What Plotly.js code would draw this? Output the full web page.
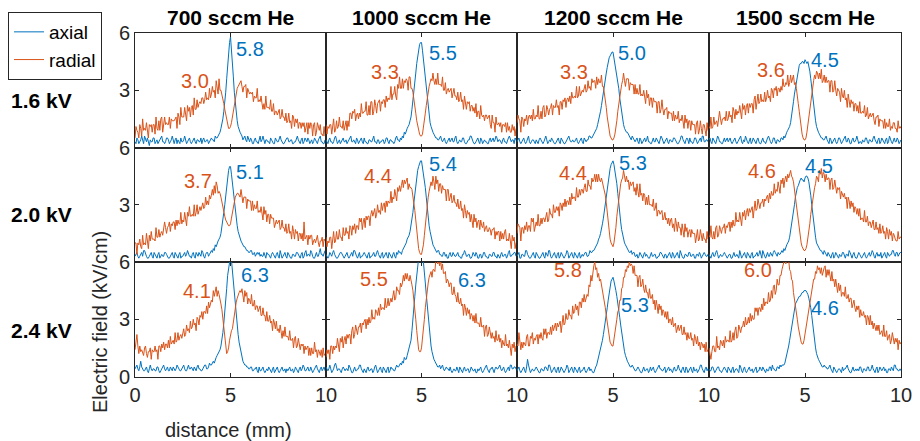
<!DOCTYPE html>
<html><head><meta charset="utf-8">
<script src="https://cdn.plot.ly/plotly-3.0.1.min.js"></script>
<style>html,body{margin:0;padding:0;background:#fff}#chart{width:920px;height:441px}</style>
</head><body><div id="chart"></div>
<script>
// distance (mm)
const distance = [0,0.05,0.1,0.15,0.2,0.25,0.3,0.35,0.4,0.45,0.5,0.55,0.6,0.65,0.7,0.75,0.8,0.85,0.9,0.95,
1,1.05,1.1,1.15,1.2,1.25,1.3,1.35,1.4,1.45,1.5,1.55,1.6,1.65,1.7,1.75,1.8,1.85,1.9,1.95,
2,2.05,2.1,2.15,2.2,2.25,2.3,2.35,2.4,2.45,2.5,2.55,2.6,2.65,2.7,2.75,2.8,2.85,2.9,2.95,
3,3.05,3.1,3.15,3.2,3.25,3.3,3.35,3.4,3.45,3.5,3.55,3.6,3.65,3.7,3.75,3.8,3.85,3.9,3.95,
4,4.05,4.1,4.15,4.2,4.25,4.3,4.35,4.4,4.45,4.5,4.55,4.6,4.65,4.7,4.75,4.8,4.85,4.9,4.95,
5,5.05,5.1,5.15,5.2,5.25,5.3,5.35,5.4,5.45,5.5,5.55,5.6,5.65,5.7,5.75,5.8,5.85,5.9,5.95,
6,6.05,6.1,6.15,6.2,6.25,6.3,6.35,6.4,6.45,6.5,6.55,6.6,6.65,6.7,6.75,6.8,6.85,6.9,6.95,
7,7.05,7.1,7.15,7.2,7.25,7.3,7.35,7.4,7.45,7.5,7.55,7.6,7.65,7.7,7.75,7.8,7.85,7.9,7.95,
8,8.05,8.1,8.15,8.2,8.25,8.3,8.35,8.4,8.45,8.5,8.55,8.6,8.65,8.7,8.75,8.8,8.85,8.9,8.95,
9,9.05,9.1,9.15,9.2,9.25,9.3,9.35,9.4,9.45,9.5,9.55,9.6,9.65,9.7,9.75,9.8,9.85,9.9,9.95,10];

const voltages = ['1.6 kV','2.0 kV','2.4 kV'];
const flows = ['700 sccm He','1000 sccm He','1200 sccm He','1500 sccm He'];

// ===== 1.6 kV =====
const axial_16_700 = [.3,.2,.5,.4,.2,.3,.4,.6,.3,.2,.6,.4,.3,.5,.2,.1,.4,.3,.3,.5,
.5,.2,.3,.4,.2,.3,.4,.5,.6,.3,.3,.2,.3,.5,.5,.4,.2,.3,.4,.6,
.3,.2,.4,.5,.2,.4,.3,.2,.5,.3,.3,.4,.6,.3,.2,.3,.4,.5,.3,.2,
.3,.4,.5,.3,.2,.4,.4,.3,.3,.5,.2,.4,.5,.3,.3,.4,.4,.2,.3,.4,
.5,.4,.4,.3,.6,.5,.5,.6,.7,.8,1.0,1.2,1.5,1.9,2.3,2.9,3.6,4.4,5.0,5.5,
5.8,5.2,4.5,3.7,2.9,2.3,1.8,1.4,1.1,.9,.8,.7,.6,.4,.5,.6,.4,.3,.6,.4,
.3,.5,.4,.2,.2,.4,.5,.3,.3,.2,.4,.6,.3,.4,.6,.3,.2,.4,.4,.3,
.3,.2,.5,.4,.3,.2,.2,.5,.4,.3,.3,.5,.6,.4,.3,.2,.2,.3,.4,.5,
.5,.3,.3,.4,.4,.2,.2,.3,.3,.5,.6,.4,.3,.2,.4,.5,.2,.3,.5,.4,
.3,.5,.4,.2,.3,.4,.2,.3,.5,.4,.3,.2,.4,.5,.6,.3,.3,.2,.2,.4,.4];
const radial_16_700 = [.5,1.1,.9,.8,.5,1.2,1.0,.6,1.5,.9,1.0,.9,1.3,.9,.5,1.2,1.1,1.2,.8,1.2,
1.2,.7,1.6,1.0,.9,1.4,.9,1.5,1.6,.8,1.1,1.6,1.2,1.3,1.2,1.2,1.6,1.0,1.5,1.4,
1.4,1.4,1.5,1.6,1.0,1.8,1.6,1.2,2.1,1.6,1.6,1.6,2.1,1.6,1.4,2.2,1.9,2.1,1.6,2.1,
2.2,1.7,2.6,2.0,2.0,2.5,2.1,2.3,2.4,2.3,2.6,2.6,2.3,2.5,2.9,2.5,2.6,2.5,3.1,2.6,
2.8,3.2,2.9,3.0,2.6,3.5,3.2,2.8,3.6,3.0,3.0,2.8,2.6,2.3,2.0,1.7,1.4,1.1,1.0,1.0,
1.1,1.3,1.6,2.0,2.4,2.7,2.9,3.1,3.2,3.3,3.4,3.5,3.2,2.9,3.2,3.2,3.3,2.6,3.1,2.9,
2.8,2.9,2.8,2.9,2.4,2.7,2.6,2.6,3.1,2.4,2.5,2.4,2.7,2.3,2.0,2.3,2.0,2.7,2.1,2.1,
2.1,2.0,2.5,1.9,1.9,2.3,1.7,1.9,1.9,1.7,1.9,2.0,1.5,1.6,2.0,1.6,1.6,1.4,1.8,1.3,
1.4,1.8,1.3,1.4,1.0,1.7,1.6,1.1,1.5,1.3,1.5,1.0,1.3,1.3,1.0,1.3,1.1,1.3,.8,1.2,
1.3,.7,1.3,1.0,1.3,1.2,.6,1.2,1.3,.6,.8,1.3,1.1,.9,1.2,.7,.7,.6,1.1,.6,.7];
const axial_16_1000 = [.4,.3,.2,.4,.5,.3,.3,.2,.3,.5,.6,.4,.2,.3,.4,.2,.3,.4,.5,.3,
.3,.4,.2,.3,.4,.5,.6,.3,.3,.4,.3,.2,.5,.4,.2,.3,.4,.5,.3,.2,
.5,.3,.3,.2,.2,.4,.4,.3,.3,.5,.6,.3,.3,.2,.4,.4,.2,.3,.3,.4,
.4,.2,.3,.5,.5,.3,.2,.4,.4,.3,.3,.2,.3,.5,.6,.4,.4,.3,.5,.4,
.6,.5,.8,.7,.9,1.0,1.1,1.2,1.4,1.6,2.0,2.4,2.8,3.4,3.9,4.4,4.8,5.1,5.4,5.5,
5.5,5.1,4.6,4.0,3.5,3.0,2.5,2.0,1.6,1.3,1.1,.9,.8,.7,.6,.5,.5,.4,.4,.5,
.6,.4,.3,.4,.5,.3,.2,.3,.4,.5,.3,.4,.5,.3,.3,.5,.6,.3,.2,.3,
.4,.3,.3,.5,.5,.3,.2,.2,.3,.4,.4,.6,.6,.4,.3,.2,.2,.3,.4,.5,
.3,.2,.5,.4,.2,.3,.4,.3,.3,.2,.2,.4,.5,.3,.4,.5,.3,.4,.6,.5,
.3,.4,.4,.3,.2,.4,.5,.3,.3,.2,.4,.5,.6,.4,.3,.4,.4,.2,.5,.4,.3];
const radial_16_1000 = [1.2,.7,1.1,1.0,1.2,1.2,.7,1.3,1.5,.8,.9,1.4,1.0,1.1,1.6,1.1,1.1,1.0,1.4,.9,
1.3,1.4,.9,1.4,1.1,1.8,1.8,1.5,1.9,1.8,2.0,1.4,1.7,1.8,1.5,1.8,1.6,2.3,1.8,1.8,
1.9,1.9,2.4,1.7,1.7,2.2,1.7,2.4,2.4,1.7,1.9,2.5,2.2,1.8,2.3,2.4,2.5,1.9,2.4,2.3,
2.5,2.5,2.1,2.7,2.4,2.6,2.5,2.6,3.2,2.5,2.8,2.8,3.2,2.7,2.5,3.3,3.1,3.7,3.1,3.1,
3.6,3.1,3.5,3.4,3.6,3.5,3.0,3.7,3.7,3.1,3.1,2.9,2.6,2.2,1.8,1.4,1.1,.9,.7,.6,
.6,.7,1.0,1.4,1.8,2.2,2.6,3.0,3.2,3.4,3.6,3.5,3.9,3.5,3.3,3.6,3.3,3.9,3.3,3.3,
3.3,3.2,3.7,3.0,3.0,3.4,2.8,3.0,3.1,2.9,3.0,3.1,2.6,2.8,3.1,2.7,2.7,2.5,2.9,2.4,
2.5,2.9,2.4,2.5,2.0,2.7,2.4,2.0,2.4,2.3,2.4,1.9,2.2,2.2,1.9,2.1,1.8,2.3,1.6,1.9,
1.9,1.5,2.2,1.7,1.6,1.7,1.4,1.7,1.7,1.5,1.6,1.7,1.2,1.0,1.7,1.3,1.3,.8,1.6,1.2,
1.2,1.3,1.1,1.3,.8,1.2,1.2,1.1,1.3,.8,1.3,.9,1.1,.8,.8,1.2,.9,1.1,.6,1.0,1.0];
const axial_16_1200 = [.3,.4,.5,.3,.2,.3,.4,.5,.3,.2,.3,.5,.6,.3,.2,.3,.4,.4,.3,.2,
.4,.3,.2,.4,.5,.4,.3,.2,.3,.5,.6,.4,.2,.3,.4,.3,.5,.4,.3,.2,
.2,.3,.4,.5,.3,.2,.5,.4,.3,.2,.2,.3,.4,.5,.6,.4,.3,.3,.4,.3,
.3,.4,.5,.3,.2,.3,.4,.5,.3,.2,.5,.4,.3,.4,.4,.6,.6,.5,.5,.6,
.7,.8,.9,1.0,1.2,1.4,1.6,1.9,2.2,2.6,2.9,3.3,3.6,3.9,4.2,4.5,4.7,4.8,4.9,5.0,
5.0,4.7,4.4,4.1,3.8,3.5,3.1,2.6,2.2,1.8,1.5,1.2,1.0,.9,.8,.8,.7,.6,.5,.4,
.6,.5,.4,.3,.4,.5,.3,.2,.5,.4,.2,.3,.4,.5,.3,.4,.6,.3,.3,.2,
.2,.4,.5,.3,.3,.5,.4,.3,.2,.4,.6,.5,.3,.2,.3,.4,.5,.3,.2,.4,
.4,.3,.3,.5,.5,.4,.3,.2,.2,.3,.4,.6,.6,.4,.3,.2,.4,.5,.4,.2,
.5,.3,.3,.2,.3,.5,.5,.3,.2,.3,.4,.5,.3,.6,.6,.3,.3,.4,.4,.3,.3];
const radial_16_1200 = [1.3,1.7,1.5,1.4,.8,1.6,1.5,1.1,1.5,1.4,1.7,1.2,1.6,1.7,1.5,1.7,1.4,2.0,1.5,1.5,
1.7,1.6,2.2,1.5,1.5,1.9,1.5,2.1,2.2,1.6,1.7,2.2,2.0,1.7,2.0,2.1,2.3,1.7,2.2,2.1,
2.1,2.5,2.1,2.2,1.7,2.4,2.4,2.0,2.5,2.4,2.6,2.1,2.5,2.6,2.4,2.7,2.3,2.9,2.6,2.6,
2.7,2.6,3.2,2.6,2.7,3.2,2.7,2.9,3.0,2.9,3.2,3.3,2.9,3.0,3.5,3.1,3.2,3.0,3.6,3.4,
3.5,3.5,3.1,3.7,3.3,3.6,3.4,3.4,3.8,3.2,3.2,2.9,2.5,2.1,1.6,1.2,.8,.6,.5,.4,
.4,.5,.7,1.0,1.4,1.9,2.3,2.7,3.1,3.3,3.5,3.9,3.5,3.2,3.6,3.6,3.6,3.0,3.4,3.3,
3.3,3.3,2.8,3.3,2.8,3.1,2.8,2.8,3.3,2.7,2.8,2.7,3.0,2.6,2.3,3.0,2.6,2.8,2.2,2.6,
2.6,2.1,2.6,2.4,2.4,2.4,1.8,2.4,2.4,1.8,2.0,2.5,2.0,1.7,2.0,2.0,2.1,1.5,1.9,1.8,
1.8,1.8,1.4,1.9,1.4,1.7,1.5,1.5,1.9,1.3,1.5,1.4,1.7,1.3,1.0,1.7,1.3,1.5,1.0,1.4,
1.4,.9,1.4,1.2,1.2,1.2,.7,1.3,1.4,.7,.9,1.4,1.0,.7,1.2,1.2,.9,.6,1.3,.9,1.0];
const axial_16_1500 = [.4,.5,.3,.2,.5,.4,.3,.2,.4,.6,.5,.3,.3,.2,.2,.4,.5,.3,.4,.5,
.3,.4,.5,.3,.2,.3,.4,.5,.3,.2,.3,.4,.5,.6,.3,.2,.4,.3,.6,.4,
.3,.2,.4,.5,.2,.3,.5,.4,.3,.2,.4,.5,.3,.2,.2,.4,.5,.3,.3,.2,
.4,.5,.6,.4,.3,.2,.3,.5,.5,.3,.2,.4,.4,.3,.3,.5,.5,.4,.6,.5,
.7,.8,.9,1.0,1.1,1.3,1.6,2.0,2.4,2.8,3.1,3.5,3.8,4.1,4.3,4.4,4.4,4.5,4.5,4.4,
4.6,4.5,4.4,4.5,4.3,4.0,3.6,3.1,2.6,2.2,1.8,1.4,1.1,.9,.8,.7,.6,.5,.5,.4,
.4,.5,.6,.4,.3,.2,.5,.4,.2,.3,.4,.5,.3,.2,.3,.5,.5,.3,.2,.3,
.4,.5,.6,.3,.3,.5,.4,.2,.2,.4,.5,.3,.3,.4,.6,.4,.2,.3,.3,.2,
.4,.3,.3,.5,.5,.3,.2,.4,.4,.3,.3,.5,.6,.4,.3,.2,.4,.5,.2,.3,
.5,.4,.3,.2,.4,.5,.2,.3,.6,.4,.3,.2,.4,.5,.3,.3,.5,.4,.2,.3,.4];
const radial_16_1500 = [1.1,1.0,1.6,1.0,1.1,1.6,1.2,1.3,1.4,1.1,1.4,1.9,1.5,1.2,1.5,1.5,1.6,1.4,1.9,1.4,
1.5,1.9,1.6,1.7,1.3,2.1,1.9,1.5,2.0,1.7,1.9,1.8,2.2,1.8,1.5,2.3,2.0,2.2,1.7,2.2,
2.3,1.8,2.3,2.1,2.3,2.3,1.8,2.5,2.7,2.0,2.3,2.8,2.3,2.4,2.8,2.4,2.5,2.4,2.9,2.4,
2.6,3.0,2.6,2.7,2.4,3.1,3.0,2.6,3.1,3.0,3.2,2.7,3.1,3.1,2.9,3.2,3.0,3.6,3.2,3.2,
3.4,3.3,3.8,3.2,3.4,3.8,3.4,3.6,3.8,3.3,3.4,3.1,2.8,2.3,1.9,1.4,1.0,.7,.5,.4,
.4,.5,.8,1.2,1.6,2.1,2.6,3.0,3.3,3.5,3.8,3.6,4.0,3.9,3.6,3.9,3.6,4.1,3.4,3.5,
3.8,3.4,3.7,3.4,3.5,3.5,2.9,3.5,3.5,2.9,3.0,3.5,3.0,2.7,3.1,3.0,2.9,2.4,3.1,2.7,
2.6,3.0,2.5,2.6,2.1,2.8,2.5,2.1,2.5,2.3,2.4,1.9,2.3,2.3,1.9,2.2,1.8,2.4,1.8,1.8,
1.9,1.8,2.2,1.6,1.7,2.1,1.5,1.7,1.8,1.6,1.7,1.8,1.4,1.2,1.6,1.6,1.7,1.1,1.5,1.4,
1.4,1.4,1.0,1.5,1.0,1.3,1.1,1.1,1.5,.9,1.1,1.0,1.3,1.3,1.0,1.0,.8,1.4,1.0,1.1,1.0];

// ===== 2.0 kV =====
const axial_20_700 = [.3,.4,.5,.3,.2,.3,.4,.5,.3,.6,.6,.4,.3,.2,.2,.3,.4,.5,.3,.2,
.5,.4,.3,.2,.4,.5,.2,.3,.4,.3,.3,.5,.5,.4,.3,.2,.2,.3,.4,.5,
.3,.2,.5,.4,.3,.2,.4,.5,.2,.3,.3,.4,.5,.3,.4,.6,.4,.3,.3,.2,
.4,.5,.3,.2,.5,.4,.3,.5,.4,.3,.6,.5,.3,.2,.4,.5,.5,.3,.4,.5,
.6,.5,.7,.6,.9,.8,1.0,1.1,1.2,1.3,1.5,1.8,2.1,2.6,3.0,3.5,4.0,4.4,4.8,5.0,
5.0,4.6,4.1,3.6,3.2,2.7,2.2,1.9,1.6,1.4,1.3,1.1,1.0,.9,.8,.8,.7,.6,.6,.5,
.5,.6,.6,.4,.4,.5,.3,.4,.5,.4,.5,.3,.4,.3,.3,.5,.3,.2,.5,.4,
.4,.3,.2,.4,.5,.4,.3,.2,.4,.5,.3,.2,.6,.4,.2,.3,.4,.5,.3,.2,
.5,.4,.3,.2,.2,.4,.4,.3,.3,.5,.5,.4,.3,.2,.4,.5,.2,.3,.5,.6,
.3,.4,.4,.3,.6,.5,.3,.2,.2,.4,.5,.3,.3,.5,.7,.4,.4,.3,.5,.6,.6];
const radial_20_700 = [1.0,1.0,.4,1.0,.9,1.2,.8,.7,1.4,.9,1.0,.9,1.5,1.1,.7,1.4,1.1,1.6,1.2,1.2,
1.2,1.1,1.8,1.3,1.3,1.7,1.3,1.5,1.6,1.4,1.7,2.1,1.8,1.5,1.8,1.9,2.1,1.6,2.0,1.9,
2.1,2.1,1.7,2.2,1.9,2.2,2.0,2.0,2.6,2.0,2.2,2.1,2.6,2.2,1.9,2.6,2.4,2.9,2.4,2.4,
2.5,2.4,3.0,2.4,2.6,3.0,2.5,2.7,2.9,2.7,3.0,3.1,2.8,2.9,3.4,3.0,3.2,3.0,3.5,3.3,
3.5,3.8,3.5,4.0,3.6,4.2,4.0,3.6,3.7,3.6,3.4,3.1,2.8,2.6,2.4,2.2,2.1,2.0,1.9,1.9,
2.0,2.3,2.6,2.9,3.2,3.4,3.5,3.6,3.6,3.5,3.4,3.8,3.4,3.1,3.4,3.4,3.4,2.8,3.3,3.2,
3.2,3.2,2.7,3.2,2.7,3.0,2.8,2.8,3.2,2.6,2.7,2.6,2.9,2.5,2.2,2.9,2.5,2.7,2.1,2.5,
2.5,2.0,2.5,2.3,2.3,2.3,1.8,2.1,2.2,2.0,2.1,2.2,1.7,1.8,2.2,1.8,1.8,1.6,2.0,1.5,
1.6,2.0,1.5,1.6,1.2,1.9,1.6,1.2,1.7,1.5,1.6,1.1,1.5,1.5,1.2,1.5,1.1,2.1,1.2,1.3,
1.4,.9,1.4,1.2,1.4,1.4,.9,1.1,1.2,1.0,1.3,1.4,1.0,.8,1.1,1.1,1.3,.8,1.2,1.1,1.1];
const axial_20_1000 = [.4,.3,.2,.3,.5,.4,.3,.5,.6,.4,.3,.2,.2,.3,.4,.5,.5,.4,.3,.2,
.3,.4,.5,.3,.2,.3,.4,.5,.3,.6,.6,.4,.3,.2,.4,.5,.2,.3,.3,.4,
.5,.4,.3,.2,.4,.5,.2,.3,.3,.4,.5,.3,.3,.5,.6,.4,.3,.2,.4,.5,
.2,.3,.4,.5,.3,.2,.5,.4,.3,.2,.4,.5,.3,.2,.5,.4,.6,.5,.5,.4,
.6,.7,.8,.9,1.0,1.2,1.3,1.4,1.6,1.9,2.2,2.6,3.1,3.6,4.1,4.5,4.8,5.0,5.2,5.3,
5.3,5.0,4.6,4.2,3.9,3.4,2.8,2.3,1.9,1.6,1.3,1.1,.9,.8,.7,.6,.5,.6,.6,.4,
.4,.3,.3,.5,.5,.3,.4,.2,.2,.4,.5,.3,.3,.5,.4,.3,.3,.4,.5,.3,
.3,.2,.2,.4,.4,.6,.5,.3,.3,.4,.4,.2,.2,.3,.5,.4,.3,.5,.4,.2,
.2,.4,.4,.2,.3,.5,.5,.3,.3,.2,.2,.4,.4,.3,.3,.5,.5,.3,.3,.2,
.4,.3,.2,.4,.5,.3,.3,.4,.4,.2,.3,.5,.6,.3,.3,.4,.4,.5,.5,.3,.3];
const radial_20_1000 = [1.3,.8,1.1,1.0,1.3,1.3,.7,1.3,1.6,1.0,1.1,1.6,1.2,1.2,1.7,1.3,1.3,1.1,1.8,1.4,
1.4,1.8,1.5,1.6,1.2,1.9,1.8,1.4,1.9,1.7,2.0,1.5,1.9,1.9,1.7,2.3,2.1,2.3,1.7,2.1,
2.3,1.8,2.4,2.2,2.4,2.4,1.9,2.5,2.7,2.4,2.7,2.8,2.3,2.5,3.0,2.6,2.7,2.5,3.1,2.7,
3.0,3.1,2.6,3.2,2.9,3.2,3.1,3.1,3.7,3.1,3.4,3.3,3.8,3.4,3.2,3.9,3.7,4.0,3.7,4.0,
4.3,3.9,4.3,4.1,4.3,4.4,3.8,4.1,3.9,3.9,3.8,3.5,3.2,2.7,2.2,1.6,1.1,.7,.5,.4,
.4,.6,.9,1.4,2.0,2.5,3.0,3.4,3.7,3.9,4.2,4.0,4.5,4.2,3.8,4.5,4.1,4.3,3.7,4.1,
4.1,3.6,4.0,3.8,3.8,3.8,3.2,3.8,3.8,3.2,3.4,3.6,3.1,3.2,3.5,3.1,3.1,2.9,3.3,2.8,
2.8,3.2,2.7,2.8,2.3,3.0,2.7,2.3,2.7,2.5,2.6,2.1,2.5,2.2,1.8,2.5,2.1,2.3,1.8,2.1,
2.2,1.7,2.2,1.9,1.8,2.1,1.6,1.8,1.9,1.6,1.6,1.8,1.7,1.4,1.7,1.7,1.8,1.2,1.6,1.4,
1.6,1.6,1.1,1.6,1.2,1.5,1.2,1.6,1.7,1.1,1.2,1.1,1.5,1.1,.7,1.4,1.1,1.3,.7,1.0,1.1];
const axial_20_1200 = [.3,.4,.5,.2,.2,.4,.4,.3,.3,.6,.6,.4,.3,.2,.2,.3,.4,.5,.3,.2,
.5,.4,.3,.2,.2,.3,.4,.5,.3,.2,.5,.4,.3,.6,.6,.3,.2,.3,.4,.5,
.3,.2,.4,.5,.2,.3,.5,.4,.3,.2,.3,.4,.6,.5,.2,.3,.4,.5,.3,.2,
.5,.4,.3,.2,.4,.5,.2,.3,.4,.3,.4,.5,.5,.3,.3,.4,.6,.5,.5,.6,
.6,.7,.8,.9,1.0,1.2,1.3,1.5,1.7,2.0,2.3,2.7,3.1,3.5,3.8,4.2,4.6,4.9,5.1,5.2,
5.3,5.1,4.8,4.5,4.1,3.6,3.0,2.5,2.1,1.7,1.4,1.2,1.0,.9,.8,.7,.6,.5,.5,.6,
.4,.5,.5,.3,.3,.4,.2,.3,.5,.4,.3,.2,.4,.5,.3,.4,.3,.2,.2,.4,
.5,.3,.3,.4,.4,.2,.2,.3,.3,.5,.5,.4,.3,.2,.4,.4,.2,.3,.4,.5,
.3,.2,.5,.4,.2,.3,.4,.5,.3,.2,.6,.4,.3,.2,.2,.4,.4,.3,.3,.5,
.5,.3,.3,.4,.4,.2,.2,.4,.4,.3,.5,.4,.2,.3,.4,.5,.4,.3,.3,.4,.5];
const radial_20_1200 = [1.5,2.0,1.9,1.8,1.1,1.8,1.8,1.5,1.9,1.7,2.1,1.6,1.9,1.9,1.6,2.3,2.1,2.3,1.6,1.9,
2.1,1.9,2.5,1.9,1.9,2.3,2.0,2.3,2.3,2.1,2.5,2.6,2.1,2.2,2.8,2.5,2.5,2.3,3.0,2.6,
2.6,2.9,2.7,2.9,2.4,3.1,3.0,2.7,3.1,2.9,3.3,2.9,3.2,3.2,3.0,3.4,3.0,3.6,3.3,3.4,
3.4,3.2,3.9,3.4,3.4,3.8,3.5,3.8,3.8,3.6,3.9,4.1,3.7,3.7,4.3,4.0,4.0,3.8,4.4,4.2,
4.3,4.6,4.2,4.6,4.2,4.6,4.3,4.2,4.4,4.2,4.0,3.8,3.5,3.1,2.6,2.1,1.6,1.2,1.0,.9,
.8,1.0,1.3,1.8,2.4,2.9,3.4,3.8,4.1,4.3,4.4,4.8,4.4,4.2,4.5,4.2,4.3,3.8,4.2,4.0,
4.1,4.2,3.7,3.9,3.5,4.1,3.7,3.4,4.1,3.5,3.6,3.2,3.6,3.5,3.0,3.4,3.0,3.5,3.0,3.0,
3.0,2.9,3.3,2.7,2.8,3.1,2.4,2.7,2.7,2.5,2.6,2.7,2.2,2.3,2.6,2.2,2.3,2.0,2.3,1.9,
2.2,2.3,1.8,2.0,1.6,2.3,2.0,1.6,2.1,1.8,1.8,1.4,2.0,1.7,1.3,2.0,1.6,1.8,1.3,1.6,
1.7,1.3,1.7,1.5,1.5,1.5,1.0,1.5,1.7,1.1,1.2,1.7,1.3,1.1,1.5,1.2,1.2,1.0,1.6,1.2,1.3];
const axial_20_1500 = [.4,.3,.2,.4,.5,.3,.3,.5,.6,.4,.2,.3,.4,.3,.3,.4,.5,.4,.3,.2,
.3,.4,.4,.2,.2,.4,.5,.3,.3,.4,.3,.2,.6,.4,.2,.3,.4,.5,.3,.2,
.5,.4,.3,.2,.4,.5,.2,.3,.3,.4,.5,.3,.4,.6,.3,.2,.6,.4,.3,.2,
.4,.5,.3,.3,.5,.4,.3,.5,.6,.5,.4,.3,.5,.4,.4,.5,.6,.5,.7,.6,
.8,.9,1.0,1.1,1.3,1.6,1.9,2.3,2.6,3.0,3.4,3.7,3.9,4.0,4.2,4.3,4.4,4.3,4.3,4.2,
4.4,4.5,4.5,4.4,4.2,3.9,3.5,3.0,2.5,2.0,1.6,1.3,1.0,.9,.8,.7,.6,.6,.5,.4,
.6,.5,.4,.3,.5,.4,.3,.2,.4,.5,.2,.3,.5,.4,.3,.2,.4,.3,.3,.5,
.5,.3,.2,.4,.4,.3,.6,.5,.3,.2,.4,.5,.3,.2,.2,.4,.5,.4,.3,.2,
.3,.4,.5,.3,.2,.3,.4,.5,.3,.4,.6,.5,.3,.2,.4,.5,.3,.4,.3,.5,
.2,.3,.4,.5,.3,.2,.5,.4,.3,.4,.4,.6,.6,.4,.3,.5,.5,.3,.4,.5,.5];
const radial_20_1500 = [1.4,1.3,1.9,1.3,1.2,1.6,1.2,1.8,1.9,1.3,1.4,1.9,1.7,1.5,1.8,1.8,2.0,1.5,1.9,1.8,
2.0,2.1,1.6,2.1,1.8,2.2,1.9,1.9,2.6,2.1,2.2,2.1,2.6,2.3,1.9,2.6,2.4,2.7,2.2,2.6,
2.8,2.4,2.8,2.6,2.8,2.9,2.3,2.9,3.2,2.7,2.8,3.3,3.0,2.8,3.1,3.1,3.3,2.9,3.3,3.2,
3.4,3.5,3.1,3.6,3.3,3.7,3.5,3.5,4.1,3.6,3.8,3.7,4.2,3.9,3.6,4.3,4.1,4.4,3.9,4.3,
4.5,4.2,4.6,4.4,4.6,4.8,4.5,4.4,4.2,3.8,3.3,2.9,2.4,2.0,1.6,1.3,1.0,.8,.7,.6,
.6,.7,.9,1.2,1.6,2.0,2.5,2.9,3.3,3.6,3.9,4.1,4.5,4.4,4.2,4.8,4.6,4.9,4.4,4.7,
4.6,4.2,4.6,4.3,4.4,4.4,3.8,4.3,4.4,3.8,3.9,4.3,3.9,3.6,3.9,3.8,3.9,3.3,3.7,3.5,
3.4,3.6,3.3,3.4,2.8,3.4,3.2,2.8,3.2,2.9,3.1,2.6,2.9,2.8,2.5,2.8,2.4,2.8,2.2,2.3,
2.3,2.1,2.7,2.1,2.1,2.4,1.9,2.1,2.1,1.8,2.0,2.2,1.7,1.7,2.1,1.7,1.8,1.5,2.0,1.5,
1.6,1.9,1.5,1.6,1.2,1.8,1.6,1.2,1.7,1.4,1.6,1.1,1.5,1.4,1.2,1.1,1.1,1.6,1.2,1.3,1.3];

// ===== 2.4 kV =====
const axial_24_700 = [.4,.5,.6,.4,.3,.5,.8,.5,.4,.3,.3,.4,.5,.3,.2,.4,.6,.4,.3,.4,
.4,.3,.3,.5,.5,.3,.2,.3,.4,.5,.6,.4,.3,.4,.5,.3,.3,.5,.4,.3,
.5,.4,.3,.4,.6,.5,.4,.3,.3,.4,.5,.6,.4,.3,.3,.5,.6,.4,.4,.5,
.4,.3,.5,.4,.3,.5,.6,.4,.4,.3,.3,.4,.5,.6,.6,.4,.4,.5,.7,.6,
.6,.7,.8,.7,.9,1.0,1.1,1.2,1.3,1.4,1.6,1.9,2.3,2.8,3.3,4.0,4.6,5.3,5.8,6.2,
6.3,6.1,5.5,5.0,4.6,4.0,3.3,2.6,2.2,1.8,1.5,1.2,1.0,.8,.7,.6,.6,.5,.5,.4,
.4,.5,.5,.3,.3,.4,.4,.5,.3,.2,.5,.3,.3,.4,.5,.3,.2,.3,.4,.3,
.5,.4,.3,.2,.4,.5,.2,.3,.4,.5,.3,.2,.3,.4,.5,.3,.3,.4,.2,.4,
.3,.4,.5,.3,.3,.4,.2,.3,.5,.4,.3,.2,.4,.5,.3,.4,.6,.5,.3,.3,
.4,.5,.3,.3,.5,.3,.2,.3,.4,.5,.6,.4,.3,.2,.4,.5,.3,.4,.5,.3,.3];
const radial_24_700 = [1.4,1.9,2.2,1.6,1.2,1.6,1.3,1.4,1.2,1.1,1.5,1.6,1.2,1.0,1.3,1.3,1.5,.9,1.4,1.3,
1.3,1.6,1.3,1.4,.9,1.6,1.6,1.3,1.7,1.5,1.8,1.4,1.7,1.7,1.5,1.9,1.5,2.1,1.7,1.8,
1.9,1.7,2.3,1.8,1.9,2.3,1.9,2.1,2.2,2.0,2.3,2.5,2.1,2.2,2.7,2.4,2.5,2.3,2.9,2.5,
2.6,3.0,2.7,2.8,2.4,3.1,3.0,2.7,3.2,3.1,3.4,3.0,3.4,3.4,3.3,3.7,3.3,3.9,3.6,3.8,
4.0,3.9,4.5,4.2,4.4,4.7,4.2,4.5,4.3,4.1,3.8,3.5,3.1,2.6,2.2,1.7,1.2,1.3,1.5,1.9,
2.3,2.4,2.5,2.9,3.3,3.6,3.9,4.1,4.3,4.4,4.5,4.4,4.6,4.3,3.9,4.5,4.2,4.4,3.8,4.1,
4.0,3.8,4.3,3.7,3.7,4.0,3.5,3.7,3.7,3.4,3.6,3.7,3.2,3.2,3.6,3.2,3.2,2.9,3.4,2.9,
2.9,3.2,2.8,2.9,2.4,3.0,2.8,2.5,2.9,2.4,2.5,2.3,2.7,2.3,2.0,2.4,2.1,2.6,2.1,2.1,
2.1,1.9,2.4,1.9,1.9,2.0,1.5,2.0,2.1,1.5,1.6,2.0,1.6,1.4,1.7,1.6,1.7,1.2,1.6,1.4,
1.5,1.6,1.1,1.5,1.1,1.5,1.2,1.2,1.8,1.3,1.4,1.0,1.4,1.3,1.1,1.4,1.0,1.5,1.1,1.2,1.2];
const axial_24_1000 = [.5,.4,.3,.4,.6,.4,.2,.3,.4,.6,.7,.5,.3,.4,.4,.3,.2,.4,.5,.4,
.3,.4,.4,.3,.6,.5,.3,.2,.2,.4,.5,.3,.3,.4,.4,.6,.6,.4,.3,.2,
.4,.3,.2,.4,.5,.3,.3,.4,.4,.2,.3,.5,.6,.4,.2,.3,.4,.5,.3,.2,
.5,.4,.3,.2,.4,.5,.2,.3,.5,.4,.4,.3,.3,.5,.6,.5,.5,.6,.7,.6,
.8,.7,1.0,.9,.9,1.1,1.3,1.4,1.6,1.9,2.4,2.9,3.6,4.2,4.8,5.4,5.9,6.2,6.3,6.4,
6.3,6.3,6.0,5.6,4.9,4.3,3.7,3.1,2.5,2.0,1.6,1.3,1.0,.9,.8,.7,.6,.5,.5,.6,
.4,.5,.6,.4,.3,.4,.5,.4,.4,.3,.5,.3,.2,.3,.4,.3,.3,.5,.3,.2,
.5,.4,.3,.2,.4,.5,.3,.3,.4,.4,.2,.3,.5,.4,.3,.3,.4,.2,.2,.4,
.3,.4,.5,.3,.2,.3,.4,.5,.6,.4,.3,.2,.4,.4,.5,.3,.2,.4,.5,.4,
.4,.5,.6,.4,.3,.4,.5,.3,.2,.3,.4,.5,.3,.6,.6,.4,.4,.5,.5,.4,.3];
const radial_24_1000 = [1.0,1.4,1.2,1.4,.9,1.6,1.6,1.2,1.6,1.4,1.6,1.5,2.0,1.6,1.3,2.0,1.8,2.1,1.5,1.9,
2.1,1.7,2.2,2.0,2.2,2.2,1.7,2.4,2.6,2.0,2.2,2.7,2.4,2.2,2.6,2.6,2.8,2.3,2.8,2.7,
2.9,3.0,2.5,3.0,2.7,3.1,2.8,2.9,3.5,3.0,3.1,3.0,3.5,3.4,3.2,3.6,3.2,3.8,3.5,3.6,
3.6,3.5,4.1,3.6,3.7,4.1,3.7,4.0,4.1,3.9,4.3,4.5,4.0,4.1,4.7,4.5,4.5,4.3,4.9,4.7,
4.9,5.3,5.0,5.4,5.1,5.4,5.1,5.0,5.3,5.1,4.8,4.5,4.1,3.6,3.0,2.4,1.8,1.4,1.3,1.3,
1.5,1.9,2.4,3.0,3.6,4.1,4.6,4.9,5.2,5.4,5.5,5.2,5.6,5.6,5.5,6.1,6.2,5.9,6.1,5.8,
6.1,5.6,5.9,5.4,5.4,5.5,4.9,5.1,5.0,4.7,4.9,4.9,4.3,4.3,4.7,4.3,4.2,3.9,4.4,3.9,
3.8,4.1,3.7,3.8,3.2,3.8,3.6,3.2,3.6,3.3,3.5,3.0,3.3,3.2,2.9,3.2,2.8,3.3,2.8,2.8,
2.8,2.6,3.1,2.6,2.6,2.7,2.1,2.6,2.7,2.1,2.2,2.6,2.2,2.0,2.3,2.0,2.1,1.8,2.4,1.9,
1.9,2.2,1.8,2.0,1.5,1.9,1.7,1.6,2.2,1.6,1.7,1.5,1.9,1.5,1.1,1.7,1.5,1.8,1.3,1.6,1.6];
const axial_24_1200 = [.3,.4,.5,.3,.2,.3,.4,.5,.3,.2,.5,.9,.6,.3,.2,.3,.4,.3,.3,.4,
.5,.4,.3,.2,.2,.4,.4,.3,.3,.5,.5,.4,.3,.6,.6,.4,.2,.3,.4,.5,
.3,.2,.4,.5,.2,.3,.5,.4,.3,.2,.3,.4,.6,.5,.2,.3,.4,.5,.3,.2,
.5,.4,.3,.2,.4,.5,.2,.3,.3,.4,.5,.3,.2,.3,.4,.5,.3,.4,.3,.2,
.2,.4,.5,.6,.8,1.0,1.2,1.4,1.7,1.9,2.2,2.5,2.9,3.2,3.6,4.0,4.4,4.7,5.0,5.1,
5.2,5.0,4.8,4.5,4.2,3.9,3.6,3.1,2.7,2.3,1.9,1.6,1.3,1.1,.9,.8,.7,.6,.5,.5,
.6,.5,.4,.3,.3,.4,.5,.4,.3,.2,.2,.4,.5,.3,.3,.4,.4,.2,.3,.5,
.3,.4,.5,.3,.2,.3,.4,.5,.6,.4,.4,.3,.3,.4,.5,.2,.3,.4,.5,.3,
.4,.3,.2,.4,.5,.3,.3,.4,.6,.4,.3,.2,.4,.5,.3,.2,.5,.4,.2,.3,
.4,.5,.3,.2,.5,.3,.3,.4,.2,.3,.4,.6,.6,.4,.3,.2,.4,.5,.3,.4,.5];
const radial_24_1200 = [1.7,1.6,2.3,1.6,1.4,1.8,1.5,1.8,1.7,1.6,2.1,2.2,1.6,1.6,2.1,2.0,2.3,1.7,2.0,1.9,
2.1,2.2,1.7,2.2,2.0,2.3,2.0,1.9,2.5,2.2,2.5,2.0,2.3,2.3,2.2,2.6,2.2,2.7,2.4,2.6,
2.8,2.4,2.8,2.6,2.8,2.9,2.3,2.9,3.2,2.7,2.8,3.3,3.0,3.0,3.5,3.2,3.2,3.0,3.7,3.3,
3.4,3.8,3.5,3.7,3.2,3.9,3.9,3.6,4.1,3.9,4.3,3.9,4.2,4.3,4.2,4.8,4.7,5.3,5.0,5.5,
5.8,6.0,5.6,5.7,5.2,5.4,5.0,5.1,4.8,4.7,4.4,4.0,3.6,3.2,2.8,2.4,2.1,1.8,1.7,1.6,
1.6,1.9,2.2,2.6,3.0,3.4,3.5,4.0,4.0,4.6,4.7,5.2,5.2,5.6,5.5,5.8,5.7,6.0,5.8,5.9,
5.8,5.4,5.8,5.3,5.3,5.3,4.7,5.2,5.3,4.7,4.8,5.1,4.6,4.4,4.8,4.4,4.4,4.1,4.6,4.1,
4.1,4.3,3.8,4.0,3.5,4.0,3.7,3.3,3.8,3.5,3.7,3.2,3.5,3.4,3.1,3.4,3.0,3.4,2.8,3.0,
3.0,2.7,3.1,2.6,2.7,2.8,2.3,2.6,2.7,2.4,2.6,2.7,2.2,2.2,2.6,2.2,2.3,1.9,2.3,2.0,
2.0,2.3,1.9,2.0,1.6,2.2,2.0,1.7,2.1,1.6,1.8,1.4,1.8,1.7,1.5,1.7,1.3,1.8,1.3,1.4,1.3];
const axial_24_1500 = [.4,.3,.3,.5,.5,.3,.2,.3,.4,.5,.5,.3,.3,.2,.3,.4,.5,.4,.3,.2,
.5,.4,.3,.2,.4,.5,.2,.3,.4,.4,.3,.2,.6,.5,.3,.2,.4,.5,.3,.2,
.3,.4,.5,.3,.3,.4,.2,.3,.4,.5,.2,.3,.3,.5,.4,.3,.5,.4,.3,.2,
.4,.3,.3,.5,.5,.3,.6,.4,.4,.3,.3,.5,.5,.4,.6,.5,.6,.6,.6,.7,
.9,1.1,1.3,1.6,1.9,2.2,2.6,2.9,3.3,3.6,3.8,3.9,4.0,4.1,4.2,4.2,4.3,4.4,4.4,4.5,
4.5,4.5,4.4,4.3,4.1,3.9,3.6,3.2,2.7,2.2,1.8,1.5,1.2,1.0,.9,.8,.7,.6,.5,.5,
.6,.5,.5,.4,.4,.5,.6,.4,.3,.2,.5,.4,.3,.2,.3,.4,.4,.3,.2,.5,
.3,.4,.4,.5,.6,.4,.3,.2,.2,.4,.5,.3,.3,.4,.3,.4,.3,.5,.5,.3,
.2,.4,.4,.3,.3,.5,.5,.3,.3,.4,.6,.4,.3,.2,.4,.5,.2,.3,.5,.4,
.3,.4,.5,.3,.4,.2,.2,.4,.4,.3,.5,.4,.3,.6,.6,.4,.4,.3,.3,.4,.3];
const radial_24_1500 = [1.5,1.1,.9,1.3,1.6,1.6,1.3,1.3,2.1,1.5,1.6,1.4,1.9,1.8,1.6,1.9,1.5,2.1,1.8,1.9,
1.9,1.8,2.4,1.8,1.9,2.3,1.9,2.4,2.6,2.0,2.1,2.7,2.5,2.3,2.6,2.6,2.9,2.6,3.1,2.7,
2.8,3.1,2.8,3.3,2.9,3.2,3.0,3.0,3.6,3.4,3.6,3.2,3.6,3.6,3.4,3.8,3.5,4.1,3.7,3.9,
3.9,3.8,4.4,3.9,4.0,4.5,4.1,4.7,4.8,4.3,4.5,5.1,4.8,4.8,5.3,5.3,5.6,5.9,6.1,6.2,
5.9,6.2,6.0,6.1,5.6,5.5,5.1,5.0,4.4,4.1,3.8,3.4,3.0,2.6,2.3,2.0,1.8,1.7,1.7,1.9,
2.2,2.5,2.9,3.1,3.4,3.8,4.1,4.4,4.7,5.1,5.1,5.5,5.4,5.8,5.6,5.7,5.4,5.7,5.3,5.6,
5.7,5.8,5.2,5.6,5.3,5.6,5.3,5.0,5.5,5.0,5.1,4.7,5.1,4.8,4.4,4.9,4.5,4.8,4.2,4.4,
4.4,4.2,4.7,4.1,4.1,4.3,3.9,4.1,4.1,3.6,3.8,4.0,3.6,3.4,3.7,3.5,3.7,3.1,3.5,3.2,
3.2,3.4,3.1,3.2,2.7,3.2,3.1,2.7,3.2,2.7,2.9,2.5,2.8,2.6,2.4,2.7,2.4,2.7,2.2,2.3,
2.4,2.1,2.7,2.1,2.1,2.4,1.9,2.1,2.2,1.7,1.9,2.3,2.0,1.7,2.0,1.8,2.0,1.4,1.9,1.7,1.8];

// peak labels
const axialPeakLabels  = [['5.8','5.5','5.0','4.5'],['5.1','5.4','5.3','4.5'],['6.3','6.3','5.3','4.6']];
const radialPeakLabels = [['3.0','3.3','3.3','3.6'],['3.7','4.4','4.4','4.6'],['4.1','5.5','5.8','6.0']];

const axialSeries = [[axial_16_700,axial_16_1000,axial_16_1200,axial_16_1500],[axial_20_700,axial_20_1000,axial_20_1200,axial_20_1500],[axial_24_700,axial_24_1000,axial_24_1200,axial_24_1500]];
const radialSeries = [[radial_16_700,radial_16_1000,radial_16_1200,radial_16_1500],[radial_20_700,radial_20_1000,radial_20_1200,radial_20_1500],[radial_24_700,radial_24_1000,radial_24_1200,radial_24_1500]];

// ---- layout / styling (positions in pixels) ----
const W = 920, H = 441;
const colEdges = [135, 326, 517, 709, 901];
const rowEdges = [33, 147.5, 262, 376.5];
const axialLabelPos = [[[6.0,5.16],[6.13,4.95],[5.99,4.95],[6.04,4.58]],[[6.0,4.71],[6.13,5.13],[6.04,5.2],[5.71,5.05]],[[6.28,5.3],[7.62,5.05],[6.14,3.74],[6.06,3.6]]];
const radialLabelPos = [[[3.14,3.47],[3.09,3.95],[2.97,3.95],[3.23,4.05]],[[3.32,4.27],[2.72,4.53],[2.92,4.69],[2.78,4.79]],[[3.27,4.47],[2.5,5.13],[2.68,5.58],[2.56,5.58]]];
const rowLabelY = [100.5, 215, 330];

const BLUE = '#0072BD', ORANGE = '#D95319', AXC = '#262626';
const FONT = 'Liberation Sans, Arial, Helvetica, sans-serif';

const traces = [];
const layout = {
  width: W, height: H,
  margin: {l:0, r:0, t:0, b:0},
  paper_bgcolor: '#fff', plot_bgcolor: '#fff',
  font: {family: FONT, size: 20, color: AXC},
  showlegend: true,
  legend: {x: 8/W, y: 1 - 12/H, xanchor: 'left', yanchor: 'top', bgcolor: '#fff',
           bordercolor: AXC, borderwidth: 1, font: {family: FONT, size: 19, color: '#000'},
           tracegroupgap: 0, itemwidth: 30},
  annotations: []
};

for (let r = 0; r < 3; r++) {
  for (let c = 0; c < 4; c++) {
    const n = r*4 + c + 1;
    const xa = 'x' + (n > 1 ? n : ''), ya = 'y' + (n > 1 ? n : '');
    const xKey = 'xaxis' + (n > 1 ? n : ''), yKey = 'yaxis' + (n > 1 ? n : '');
    const bottom = r === 2, left = c === 0;
    layout[xKey] = {
      domain: [colEdges[c]/W, colEdges[c+1]/W], range: [0, 10], anchor: ya,
      showgrid: false, zeroline: false, showline: true, mirror: 'ticks', linecolor: AXC, linewidth: 1,
      ticks: 'inside', ticklen: 4, tickwidth: 1, tickcolor: AXC,
      tickvals: bottom ? (left ? [0,5,10] : [5,10]) : [5],
      showticklabels: bottom, tickfont: {family: FONT, size: 20, color: AXC}, fixedrange: true
    };
    layout[yKey] = {
      domain: [1 - rowEdges[r+1]/H, 1 - rowEdges[r]/H], range: [0, 6], anchor: xa,
      showgrid: false, zeroline: false, showline: true, mirror: 'ticks', linecolor: AXC, linewidth: 1,
      ticks: 'inside', ticklen: 4, tickwidth: 1, tickcolor: AXC,
      tickvals: left ? (r === 2 ? [0,3,6] : [3,6]) : [3],
      showticklabels: left, tickfont: {family: FONT, size: 20, color: AXC}, fixedrange: true
    };
    traces.push({x: distance, y: axialSeries[r][c], xaxis: xa, yaxis: ya, type: 'scatter', mode: 'lines',
      name: 'axial', line: {color: BLUE, width: 1}, showlegend: n === 1, hoverinfo: 'skip'});
    traces.push({x: distance, y: radialSeries[r][c], xaxis: xa, yaxis: ya, type: 'scatter', mode: 'lines',
      name: 'radial', line: {color: ORANGE, width: 1}, showlegend: n === 1, hoverinfo: 'skip'});
    layout.annotations.push({xref: xa, yref: ya, x: axialLabelPos[r][c][0], y: axialLabelPos[r][c][1],
      text: axialPeakLabels[r][c], showarrow: false, xanchor: 'center', yanchor: 'middle',
      font: {family: FONT, size: 20, color: BLUE}});
    layout.annotations.push({xref: xa, yref: ya, x: radialLabelPos[r][c][0], y: radialLabelPos[r][c][1],
      text: radialPeakLabels[r][c], showarrow: false, xanchor: 'center', yanchor: 'middle',
      font: {family: FONT, size: 20, color: ORANGE}});
  }
}
// column titles
flows.forEach((f, c) => layout.annotations.push({xref: 'paper', yref: 'paper',
  x: (colEdges[c] + colEdges[c+1]) / 2 / W, y: 1 - 17.5/H, text: '<b>' + f + '</b>', showarrow: false,
  xanchor: 'center', yanchor: 'middle', font: {family: FONT, size: 21, color: '#000'}}));
// row labels
voltages.forEach((v, r) => layout.annotations.push({xref: 'paper', yref: 'paper',
  x: 41/W, y: 1 - rowLabelY[r]/H, text: '<b>' + v + '</b>', showarrow: false,
  xanchor: 'center', yanchor: 'middle', font: {family: FONT, size: 21, color: '#000'}}));
// axis titles
layout.annotations.push({xref: 'paper', yref: 'paper', x: 100/W, y: 1 - 322/H, text: 'Electric field (kV/cm)',
  textangle: -90, showarrow: false, xanchor: 'center', yanchor: 'middle', font: {family: FONT, size: 20, color: AXC}});
layout.annotations.push({xref: 'paper', yref: 'paper', x: 228/W, y: 1 - 430/H, text: 'distance (mm)',
  showarrow: false, xanchor: 'center', yanchor: 'middle', font: {family: FONT, size: 20, color: AXC}});

Plotly.newPlot('chart', traces, layout, {staticPlot: true, displayModeBar: false});
</script></body></html>
